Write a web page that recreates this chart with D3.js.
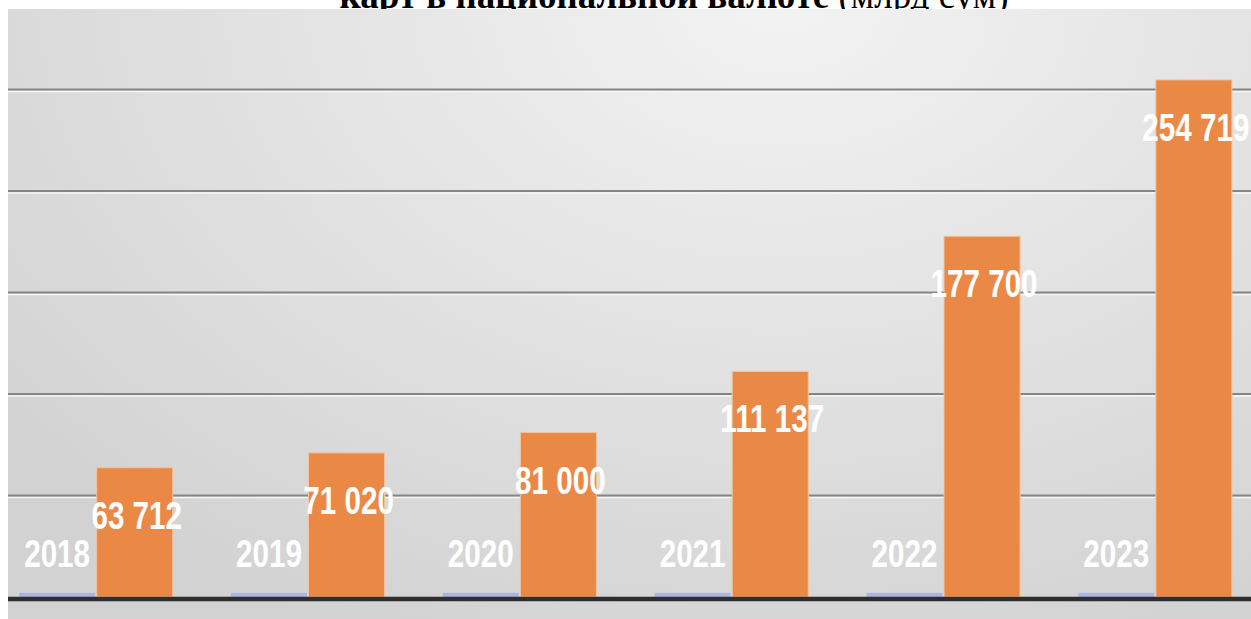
<!DOCTYPE html>
<html>
<head>
<meta charset="utf-8">
<script src="https://cdn.jsdelivr.net/npm/d3@7"></script>
<style>
  html, body { margin: 0; padding: 0; background: #ffffff; }
  svg { display: block; }
</style>
</head>
<body>
<svg id="chart" width="1251" height="619"></svg>
<script>
// Card transactions in national currency, bn sum
const years = [2018, 2019, 2020, 2021, 2022, 2023];
const yearSeries = [2018, 2019, 2020, 2021, 2022, 2023];
const volumes = [63712, 71020, 81000, 111137, 177700, 254719];
const gridTicks = [50000, 100000, 150000, 200000, 250000, 300000];
const titleBold = "карт в национальной валюте";
const titleRegular = " (млрд сум)";

const W = 1251, H = 619;
const svg = d3.select("#chart");
const defs = svg.append("defs");

const grad = defs.append("radialGradient")
  .attr("id", "bg").attr("gradientUnits", "userSpaceOnUse")
  .attr("cx", 780).attr("cy", 0).attr("r", 1000)
  .attr("gradientTransform", "translate(780,0) scale(1,0.7) translate(-780,0)");
grad.append("stop").attr("offset", "0%").attr("stop-color", "#f3f3f3");
grad.append("stop").attr("offset", "100%").attr("stop-color", "#d2d2d2");

// Title (second line of a longer heading, partly hidden behind the panel)
const title = svg.append("text")
  .attr("x", 674).attr("y", 8)
  .attr("text-anchor", "middle")
  .attr("font-family", "'Liberation Serif', 'Times New Roman', serif")
  .attr("font-size", 37)
  .attr("fill", "#000");
title.append("tspan").attr("font-weight", "bold").text(titleBold);
title.append("tspan").attr("font-weight", "normal").text(titleRegular);

// Plot panel
svg.append("rect")
  .attr("x", 8).attr("y", 9).attr("width", W - 8).attr("height", H - 9)
  .attr("fill", "url(#bg)");

const y = d3.scaleLinear().domain([0, 300000]).range([597, -12]);
const x = d3.scaleBand().domain(years).range([-10, 1261])
  .paddingInner(0.26).paddingOuter(0.13);
const xs = d3.scaleBand().domain(["year", "volume"]).range([0, x.bandwidth()]).padding(0.02);

// Gridlines
const grid = svg.append("g");
grid.selectAll("line.hl").data(gridTicks).join("line")
  .attr("x1", 8).attr("x2", W)
  .attr("y1", d => y(d) + 2).attr("y2", d => y(d) + 2)
  .attr("stroke", "#f6f6f6").attr("stroke-width", 1.5);
grid.selectAll("line.gl").data(gridTicks).join("line")
  .attr("x1", 8).attr("x2", W)
  .attr("y1", d => y(d)).attr("y2", d => y(d))
  .attr("stroke", "#858585").attr("stroke-width", 2);

const groups = svg.append("g").selectAll("g").data(years).join("g")
  .attr("transform", d => `translate(${x(d)},0)`);

// Year series (small bars at the baseline)
groups.append("rect")
  .attr("x", xs("year"))
  .attr("width", xs.bandwidth())
  .attr("y", (d, i) => y(yearSeries[i]))
  .attr("height", (d, i) => y(0) - y(yearSeries[i]))
  .attr("fill", "#aab4e6");

// Volume bars
groups.append("rect")
  .attr("x", xs("volume"))
  .attr("width", xs.bandwidth())
  .attr("y", (d, i) => y(volumes[i]))
  .attr("height", (d, i) => y(0) - y(volumes[i]))
  .attr("fill", "#ea8946")
  .attr("stroke", "#f4c4a0").attr("stroke-width", 1);

// Baseline
svg.append("line")
  .attr("x1", 8).attr("x2", W)
  .attr("y1", y(0) + 2).attr("y2", y(0) + 2)
  .attr("stroke", "#2e2e2e").attr("stroke-width", 4.5);

const fmt = v => d3.format(",")(v).replace(/,/g, " ");
const labelFont = "'Liberation Sans', Arial, sans-serif";
const squeeze = 0.78; // condensed look for data labels

// Data labels
groups.append("text")
  .attr("transform", (d, i) =>
    `translate(${xs("year") + xs.bandwidth() / 2},${y(yearSeries[i]) - 26}) scale(${squeeze},1)`)
  .attr("text-anchor", "middle")
  .attr("font-family", labelFont).attr("font-weight", "bold")
  .attr("font-size", 38).attr("fill", "#ffffff")
  .text((d, i) => yearSeries[i]);

groups.append("text")
  .attr("transform", (d, i) =>
    `translate(${xs("volume") + xs.bandwidth() / 2 + 2},${y(volumes[i]) + 61}) scale(${squeeze},1)`)
  .attr("text-anchor", "middle")
  .attr("font-family", labelFont).attr("font-weight", "bold")
  .attr("font-size", 38).attr("fill", "#ffffff")
  .text((d, i) => fmt(volumes[i]));
</script>
</body>
</html>
